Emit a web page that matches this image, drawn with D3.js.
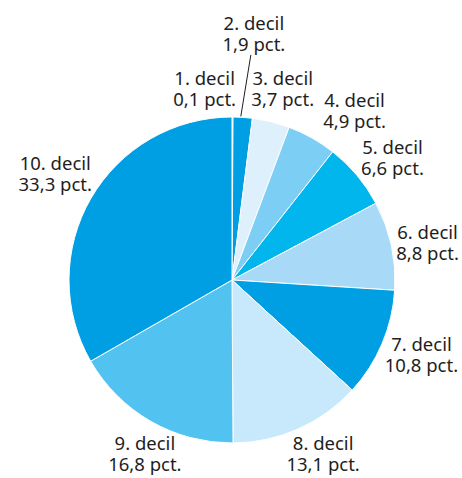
<!DOCTYPE html>
<html>
<head>
<meta charset="utf-8">
<script src="https://cdn.jsdelivr.net/npm/d3@7"></script>
<style>
  html, body { margin: 0; padding: 0; background: #fff; }
  svg { display: block; }
</style>
</head>
<body>
<svg id="chart" width="462" height="478"></svg>
<script>
// ---- data ----
const categories = ["1. decil", "2. decil", "3. decil", "4. decil", "5. decil",
                    "6. decil", "7. decil", "8. decil", "9. decil", "10. decil"];
const values = [0.1, 1.9, 3.7, 4.9, 6.6, 8.8, 10.8, 13.1, 16.8, 33.3];
const valueLabels = ["0,1 pct.", "1,9 pct.", "3,7 pct.", "4,9 pct.", "6,6 pct.",
                     "8,8 pct.", "10,8 pct.", "13,1 pct.", "16,8 pct.", "33,3 pct."];
const colors = ["#c8e8fb", "#009fe3", "#def0fc", "#7dcef5", "#00b6ed",
                "#a8daf7", "#009fe3", "#c8e8fb", "#52c3f1", "#009fe3"];

// ---- layout ----
const cx = 232, cy = 280, R = 163, labelR = 195;
// small manual label nudges (dx, dy) relative to computed label anchor
const labelNudge = [[-28, 5], [9, -50], [4, 0], [27, 2], [11, 5],
                    [5, 6], [10, 0], [12, -3], [10, 6], [-8, -7]];
const leaderFor = 1; // index of slice with a leader line

const svg = d3.select("#chart");
const g = svg.append("g").attr("transform", `translate(${cx},${cy})`);

const pie = d3.pie().sort(null).value(d => d);
const arcs = pie(values);
const arc = d3.arc().innerRadius(0).outerRadius(R);
const labelArc = d3.arc().innerRadius(labelR).outerRadius(labelR);
const edgeArc = d3.arc().innerRadius(R + 1).outerRadius(R + 1);

g.selectAll("path.slice")
  .data(arcs)
  .enter().append("path")
  .attr("class", "slice")
  .attr("d", arc)
  .attr("fill", (d, i) => colors[i])
  .attr("stroke", "#ffffff")
  .attr("stroke-width", 1)
  .attr("stroke-linejoin", "round");

const font = "'Noto Sans', 'Open Sans', sans-serif";
const lineH = 21;

arcs.forEach((d, i) => {
  const [px, py] = labelArc.centroid(d);
  const x = px + labelNudge[i][0];
  const y = py - 5.5 + labelNudge[i][1];
  const t = g.append("text")
    .attr("x", x).attr("y", y)
    .attr("text-anchor", "middle")
    .attr("font-family", font)
    .attr("font-size", 18.5)
    .attr("fill", "#1e1e1e");
  t.append("tspan").attr("x", x).attr("dy", 0).text(categories[i]);
  t.append("tspan").attr("x", x).attr("dy", lineH).text(valueLabels[i]);

  if (i === leaderFor) {
    const [ex, ey] = edgeArc.centroid(d);
    g.append("line")
      .attr("x1", x - 3).attr("y1", y + lineH + 4)
      .attr("x2", ex - 2).attr("y2", ey)
      .attr("stroke", "#1e1e1e")
      .attr("stroke-width", 1);
  }
});
</script>
</body>
</html>
